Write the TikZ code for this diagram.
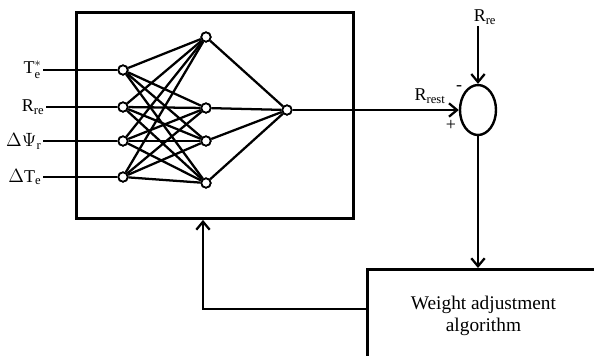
\documentclass[tikz,border=0pt]{standalone}
\usepackage{fontspec}
\setmainfont{Liberation Serif}
\usetikzlibrary{positioning, arrows.meta, shapes.geometric, calc}

\begin{document}
\begin{tikzpicture}[x=0.75pt, y=-0.75pt, >={Straight Barb[length=6pt,width=10pt]},
    font=\fontsize{13.5}{15}\selectfont,
    neuron/.style={draw, circle, fill=white, line width=1.3pt, inner sep=0pt, minimum size=7pt},
    wire/.style={line width=1.7pt},
    blockbox/.style={draw, line width=2.2pt, inner sep=0pt},
    lbl/.style={inner sep=1pt}]

  \useasboundingbox (0,0) rectangle (594,355);
  \clip (0,0) rectangle (594,355);

  % blocks
  \node[blockbox, anchor=north west, minimum width=207.75pt, minimum height=154.5pt] (net) at (75,11) {};
  \node[blockbox, anchor=north west, minimum width=174pt, minimum height=69pt, align=center,
        font=\fontsize{14.5}{16.5}\selectfont] (adj) at (366,268) {Weight adjustment\\algorithm};
  \node[draw, ellipse, line width=1.8pt, minimum width=27pt, minimum height=37.5pt, inner sep=0pt] (sum) at (478,110) {};

  % neurons
  \node[neuron] (i1) at (123,70)  {};
  \node[neuron] (i2) at (123,107) {};
  \node[neuron] (i3) at (123,141) {};
  \node[neuron] (i4) at (123,177) {};
  \node[neuron] (h1) at (206,37)  {};
  \node[neuron] (h2) at (206,108) {};
  \node[neuron] (h3) at (206,141) {};
  \node[neuron] (h4) at (206,183) {};
  \node[neuron] (o)  at (287,110) {};

  % inputs
  \node[lbl, anchor=east] (lT)   at (43,70)  {T$_\mathrm{e}^{*}$};
  \node[lbl, anchor=east] (lR)   at (46,107) {R$_\mathrm{re}$};
  \node[lbl, anchor=east] (lPsi) at (43,141) {$\Delta\Psi$$_\mathrm{r}$};
  \node[lbl, anchor=east] (lDT)  at (43,177) {$\Delta$T$_\mathrm{e}$};

  \draw[wire] (lT.east) -- (i1);
  \draw[wire] (lR.east) -- (i2);
  \draw[wire] (lPsi.east) -- (i3);
  \draw[wire] (lDT.east) -- (i4);

  \foreach \a in {i1,i2,i3,i4}
    \foreach \b in {h1,h2,h3,h4}
      \draw[wire] (\a) -- (\b);
  \foreach \b in {h1,h2,h3,h4} \draw[wire] (\b) -- (o);
  % redraw neurons on top
  \foreach \n in {i1,i2,i3,i4,h1,h2,h3,h4,o} \node[neuron] at (\n) {};

  % summing junction
  \node[lbl] (rre) at (485,17) {R$_\mathrm{re}$};
  \node[lbl] (rest) at (430,96) {R$_\mathrm{rest}$};
  \node[lbl] (minus) at (459,88) {-};
  \node[lbl] (plus) at (451,125) {+};

  \draw[wire, ->] (o) -- (sum.west);
  \draw[wire, ->] (rre.south -| sum.north) -- (sum.north);
  \draw[wire, ->] (sum.south) -- (sum.south |- adj.north);

  % feedback
  \coordinate (fb) at (203,309);
  \draw[wire, ->] (adj.west |- fb) -| (net.south -| fb);
\end{tikzpicture}
\end{document}
